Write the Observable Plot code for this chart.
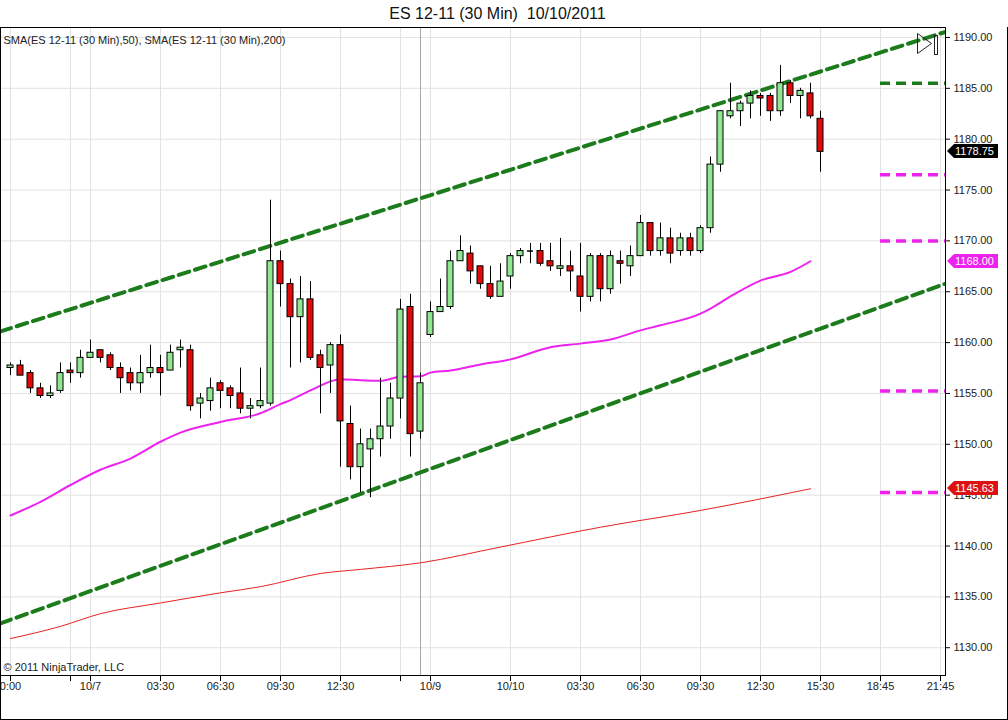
<!DOCTYPE html>
<html>
<head>
<meta charset="utf-8">
<script src="https://cdn.jsdelivr.net/npm/d3@7"></script>
<script src="https://cdn.jsdelivr.net/npm/@observablehq/plot@0.6"></script>
<style>
  html, body { margin: 0; padding: 0; background: #fff; }
  #wrap { position: relative; width: 1008px; height: 720px; overflow: hidden; font-family: 'Liberation Sans', Arial, sans-serif; }
  #title { position: absolute; left: 0; top: 0; width: 995px; height: 27px; line-height: 27px; text-align: center; font-size: 16px; color: #111; white-space: pre; }
  #chart { position: absolute; left: 0; top: 27px; }
  #border { position: absolute; left: 0; top: 27px; width: 1008px; height: 693px; box-sizing: border-box; border: 1px solid #000; border-top: none; pointer-events: none; }
</style>
</head>
<body>
<div id="wrap">
  <div id="title">ES 12-11 (30 Min)  10/10/2011</div>
  <div id="chart"></div>
  <div id="border"></div>
</div>
<script>
// ---- Candles (30-min bars, index = bar number) ----
const open = [1157.5,1157.75,1157.0,1155.5,1154.75,1155.25,1157.25,1157.0,1158.5,1159.25,
  1158.75,1157.5,1157.0,1156.0,1157.0,1157.5,1157.25,1159.25,1159.25,1154.0,
  1154.25,1156.0,1155.5,1155.0,1153.5,1153.75,1154.0,1168.0,1165.75,1162.5,
  1164.25,1158.75,1157.75,1159.75,1152.0,1147.75,1149.5,1150.5,1151.75,1154.5,
  1163.5,1151.25,1160.75,1163.0,1163.5,1168.0,1168.75,1167.5,1165.75,1164.5,
  1166.5,1168.5,1169.0,1169.0,1168.0,1167.25,1167.5,1166.5,1164.5,1168.5,
  1165.25,1168.0,1167.5,1168.5,1171.75,1169.0,1170.25,1169.0,1170.25,1169.0,
  1171.25,1177.5,1182.25,1182.75,1183.5,1184.25,1184.25,1182.75,1185.5,1184.25,
  1184.5,1182.0];
const high = [1158.0,1158.25,1157.25,1156.0,1155.75,1158.0,1158.0,1159.25,1160.25,1159.25,
  1159.0,1158.0,1157.5,1158.75,1159.75,1158.75,1159.75,1160.25,1159.75,1155.0,
  1156.5,1156.25,1155.75,1157.5,1154.5,1157.5,1174.0,1169.0,1166.25,1166.5,
  1166.0,1159.25,1160.0,1160.75,1153.75,1151.5,1151.5,1156.5,1156.0,1164.25,
  1164.75,1157.0,1164.0,1166.25,1169.0,1170.5,1169.5,1167.5,1167.5,1167.75,
  1168.75,1169.25,1169.75,1169.75,1169.75,1170.25,1169.0,1169.75,1168.75,1168.75,
  1169.0,1169.0,1169.5,1172.5,1171.75,1171.75,1171.25,1170.75,1170.75,1171.5,
  1178.25,1182.75,1185.5,1183.75,1184.75,1184.5,1184.5,1187.25,1185.75,1185.0,
  1185.5,1182.75];
const low = [1156.75,1156.75,1155.0,1154.5,1154.5,1155.0,1156.0,1156.5,1158.5,1158.0,
  1157.25,1155.0,1155.25,1155.0,1156.5,1154.75,1157.25,1157.5,1153.25,1152.5,
  1153.25,1153.5,1153.5,1153.0,1152.5,1153.5,1153.75,1163.5,1157.5,1158.0,
  1158.25,1153.0,1155.0,1147.75,1146.5,1145.25,1144.75,1148.75,1150.5,1152.5,
  1148.75,1150.5,1160.5,1163.0,1163.25,1168.0,1165.75,1165.25,1164.25,1164.5,
  1165.25,1167.75,1167.75,1167.5,1167.0,1166.5,1165.0,1163.0,1164.0,1164.0,
  1164.75,1165.75,1166.5,1168.5,1168.5,1168.5,1167.75,1168.5,1168.5,1168.75,
  1170.75,1176.75,1182.0,1181.25,1182.0,1182.25,1181.75,1182.25,1183.5,1182.0,
  1182.0,1176.75];
const close = [1157.75,1156.75,1155.5,1154.75,1155.0,1157.0,1157.0,1158.5,1159.0,1158.5,
  1157.5,1156.5,1156.0,1157.0,1157.5,1157.0,1159.0,1159.5,1153.75,1154.5,
  1155.5,1155.25,1154.75,1153.5,1153.75,1154.25,1168.0,1165.75,1162.5,1164.25,
  1158.5,1157.5,1159.75,1152.25,1147.75,1150.0,1150.5,1151.75,1154.5,1163.25,
  1151.0,1156.0,1163.0,1163.5,1168.0,1169.0,1167.0,1165.75,1164.5,1166.0,
  1168.5,1169.0,1169.0,1167.75,1167.5,1167.5,1167.0,1164.5,1168.5,1165.25,
  1168.5,1167.75,1168.5,1171.75,1169.0,1170.25,1168.75,1170.25,1169.0,1171.25,
  1177.5,1182.75,1182.75,1183.5,1184.25,1184.0,1182.75,1185.5,1184.25,1184.75,
  1182.25,1178.75];

// ---- SMA(50) and SMA(200), read at sampled bars ----
const sma50Idx = [0,3,6,9,12,15,17,21,25,27,28,30,33,35,37,39,41,42,44,47,50,54,57,60,63,65,69,70,72,75,78,80];
const sma50Val = [1143.0,1144.35,1146.0,1147.5,1148.6,1150.25,1151.15,1152.2,1153.05,1153.95,1154.35,1155.3,1156.4,1156.3,1156.25,1156.65,1156.7,1157.05,1157.25,1157.85,1158.35,1159.55,1159.9,1160.3,1161.2,1161.7,1162.85,1163.35,1164.55,1166.1,1166.95,1168.0];
const sma200Idx = [0,5,9,15,21,25,31,35,41,49,59,69,80];
const sma200Val = [1130.9,1132.1,1133.35,1134.4,1135.4,1136.0,1137.3,1137.7,1138.35,1139.9,1141.85,1143.5,1145.63];

// ---- Drawn channel lines (anchor bar, price) ----
const upperIdx = [-1, 93.5];
const upperVal = [1161.1, 1190.55];
const lowerIdx = [-1, 93.5];
const lowerVal = [1132.4, 1165.8];

// ---- Horizontal levels on the right ----
const levelVal = [1185.5, 1176.5, 1170.0, 1155.25, 1145.25];
const levelColor = ["#1c7c1c", "#ee22ee", "#ee22ee", "#ee22ee", "#ee22ee"];

// ---- Axes ----
const yTicks = [1130,1135,1140,1145,1150,1155,1160,1165,1170,1175,1180,1185,1190];
const xTickIdx = [0,6,8,15,21,27,33,39,42,50,57,63,69,75,81,87,93];
const xTickLabel = ["0:00","","10/7","03:30","06:30","09:30","12:30","","10/9","10/10","03:30","06:30","09:30","12:30","15:30","18:45","21:45"];
const sessionIdx = [41];

// ---- Build tables ----
const candles = open.map((o, i) => ({i, open: o, high: high[i], low: low[i], close: close[i]}));
const bodies = candles.filter(d => d.open !== d.close);
const dojis = candles.filter(d => d.open === d.close);
const sma50 = sma50Idx.map((i, k) => ({i, v: sma50Val[k]}));
const sma200 = sma200Idx.map((i, k) => ({i, v: sma200Val[k]}));
const upper = upperIdx.map((i, k) => ({i, v: upperVal[k]}));
const lower = lowerIdx.map((i, k) => ({i, v: lowerVal[k]}));
const levels = levelVal.map((v, k) => ({v, c: levelColor[k]}));
const xTicks = xTickIdx.map((i, k) => ({i, label: xTickLabel[k]}));
const flags = [
  {v: close[close.length - 1], c: "#000000"},
  {v: sma50Val[sma50Val.length - 1], c: "#ee22ee"},
  {v: sma200Val[sma200Val.length - 1], c: "#dd1111"}
];

const GREEN = "#92e892", RED = "#e00a0a";
const yMin = 1127.27, yMax = 1190.98;

function flagMark(index, scales, values, dimensions) {
  const y = scales.y;
  const x0 = dimensions.width - dimensions.marginRight;
  const g = d3.create("svg:g");
  for (const f of flags) {
    const yy = Math.round(y(f.v));
    g.append("path")
      .attr("d", `M${x0 + 2},${yy} L${x0 + 9},${yy - 7} L${x0 + 53},${yy - 7} L${x0 + 53},${yy + 7} L${x0 + 9},${yy + 7} Z`)
      .attr("fill", f.c);
    g.append("text")
      .attr("x", x0 + 10).attr("y", yy).attr("dy", "0.35em")
      .attr("text-anchor", "start")
      .attr("fill", "#fff").attr("font-size", 11)
      .text(f.v.toFixed(2));
  }
  return g.node();
}

function iconMark(index, scales, values, dimensions) {
  const x0 = dimensions.width - dimensions.marginRight;
  const g = d3.create("svg:g").attr("fill", "none").attr("stroke", "#222").attr("stroke-width", 1);
  g.append("path").attr("d", `M${x0 - 27.5},${6.5} L${x0 - 13.5},${16.5} L${x0 - 27.5},${26.5} Z`);
  g.append("rect").attr("x", x0 - 10.5).attr("y", 8.5).attr("width", 3).attr("height", 19);
  return g.node();
}

const chart = Plot.plot({
  width: 1008,
  height: 693,
  marginTop: 0,
  marginBottom: 45,
  marginLeft: 0,
  marginRight: 63,
  style: {fontFamily: "'Liberation Sans', Arial, sans-serif", fontSize: "11px", background: "transparent", overflow: "visible"},
  x: {type: "linear", domain: [-1, 93.5], axis: null},
  y: {type: "linear", domain: [yMin, yMax], axis: null},
  marks: [
    Plot.ruleY(yTicks, {y: d => d, stroke: "#e2e2e2", strokeWidth: 1}),
    Plot.ruleX(xTickIdx, {x: d => d, y1: yMin, y2: yMax, stroke: "#e2e2e2", strokeWidth: 1}),
    Plot.ruleX(sessionIdx, {x: d => d, y1: yMin, y2: yMax, stroke: "#a8a8a8", strokeWidth: 1}),
    // SMA lines
    Plot.line(sma200, {x: "i", y: "v", stroke: "#e52222", strokeWidth: 1, curve: "monotone-x"}),
    Plot.line(sma50, {x: "i", y: "v", stroke: "#ee22ee", strokeWidth: 2, curve: "monotone-x"}),
    // channel lines
    Plot.line(upper, {x: "i", y: "v", stroke: "#1c7c1c", strokeWidth: 4, strokeDasharray: "11,6", clip: true}),
    Plot.line(lower, {x: "i", y: "v", stroke: "#1c7c1c", strokeWidth: 4, strokeDasharray: "11,6", clip: true}),
    // right-side levels
    Plot.ruleY(levels, {y: "v", x1: 87, x2: 93.5, stroke: "c", strokeWidth: 3.5, strokeDasharray: "10,6"}),
    // candles
    Plot.ruleX(candles, {x: "i", y1: "low", y2: "high", stroke: "#000", strokeWidth: 1}),
    Plot.rect(bodies, {x1: d => d.i - 0.3, x2: d => d.i + 0.3, y1: "open", y2: "close",
      fill: d => d.close > d.open ? GREEN : RED, stroke: "#000", strokeWidth: 1}),
    Plot.ruleY(dojis, {y: "open", x1: d => d.i - 0.3, x2: d => d.i + 0.3, stroke: "#000", strokeWidth: 1.5}),
    // frame
    Plot.frame({stroke: "#000", strokeWidth: 1}),
    // y axis (right)
    Plot.ruleY(yTicks, {y: d => d, x1: 93.5, x2: 94.0, stroke: "#000"}),
    Plot.text(yTicks, {y: d => d, text: d => d.toFixed(2), frameAnchor: "right", dx: 8, textAnchor: "start", fill: "#222"}),
    // x axis (bottom)
    Plot.ruleX(xTickIdx, {x: d => d, y1: yMin, y2: yMin - 0.6, stroke: "#000"}),
    Plot.text(xTicks, {x: "i", text: "label", frameAnchor: "bottom", dy: 14, fill: "#222"}),
    // annotations
    Plot.text(["SMA(ES 12-11 (30 Min),50), SMA(ES 12-11 (30 Min),200)"], {frameAnchor: "top-left", dx: 3, dy: 13, lineAnchor: "middle", textAnchor: "start", fill: "#222"}),
    Plot.text(["© 2011 NinjaTrader, LLC"], {frameAnchor: "bottom-left", dx: 3, dy: -8, lineAnchor: "middle", textAnchor: "start", fill: "#222"}),
    flagMark,
    iconMark
  ]
});
document.getElementById("chart").appendChild(chart);
</script>
</body>
</html>
